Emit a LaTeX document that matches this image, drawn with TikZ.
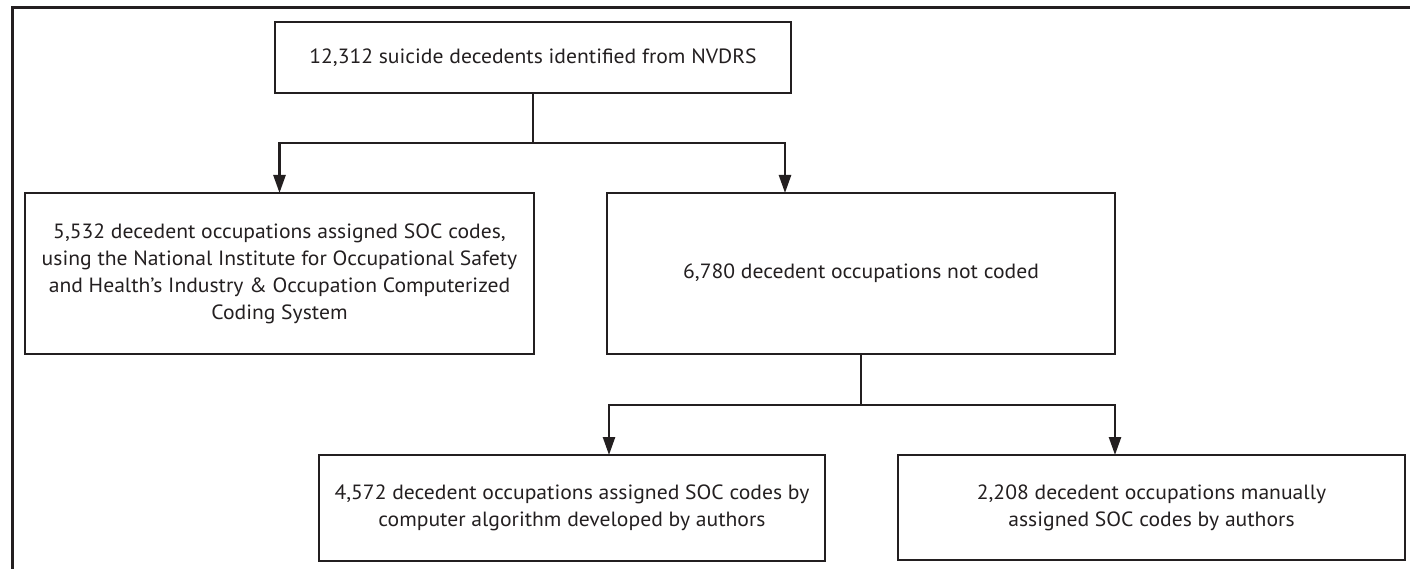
\documentclass[tikz,border=0pt]{standalone}
\usepackage{fontspec}
\setmainfont{PT Sans}[FakeStretch=1.05]
\usetikzlibrary{arrows.meta}
\definecolor{ink}{HTML}{231F20}
\begin{document}
\begin{tikzpicture}[x=1pt,y=-1pt,
  box/.style={draw=ink, line width=2.5pt, inner sep=0pt, outer sep=0pt, align=center, text=ink,
    font=\fontsize{20.6}{27}\selectfont, anchor=north west},
  conn/.style={draw=ink, line width=2.5pt},
  arr/.style={conn, -{Triangle[length=18pt,width=12pt]}},
  frame/.style={draw=ink, line width=3pt}]
\useasboundingbox (0,0) rectangle (1410,569);
\draw[frame] (12,580) -- (12,8) -- (1420,8);
\node[box, minimum width=516pt, minimum height=71pt] (top) at (275,22)
  {12,312 suicide decedents identified from NVDRS};
\node[box, minimum width=509pt, minimum height=161pt] (left) at (25,193)
  {5,532 decedent occupations assigned SOC codes,\\
   using the National Institute for Occupational Safety\\
   and Health’s Industry \& Occupation Computerized\\
   Coding System};
\node[box, minimum width=508pt, minimum height=161pt] (mid) at (607,193)
  {6,780 decedent occupations not coded};
\node[box, minimum width=506pt, minimum height=106pt] (bl) at (319,455)
  {4,572 decedent occupations assigned SOC codes by\\
   computer algorithm developed by authors};
\node[box, minimum width=507pt, minimum height=105pt] (br) at (898,455)
  {2,208 decedent occupations manually\\
   assigned SOC codes by authors};
\coordinate (h1) at (0,143);
\coordinate (j1) at (top.south |- h1);
\coordinate (m1) at (785,193);
\coordinate (h2) at (0,405);
\coordinate (j2) at (mid.south |- h2);
\coordinate (b1) at (609,455);
\coordinate (b2) at (1115,455);
\draw[conn] (top.south) -- (j1);
\draw[arr] (j1) -| (left.north);
\draw[arr] (j1) -| (m1);
\draw[conn] (mid.south) -- (j2);
\draw[arr] (j2) -| (b1);
\draw[arr] (j2) -| (b2);
\end{tikzpicture}
\end{document}
